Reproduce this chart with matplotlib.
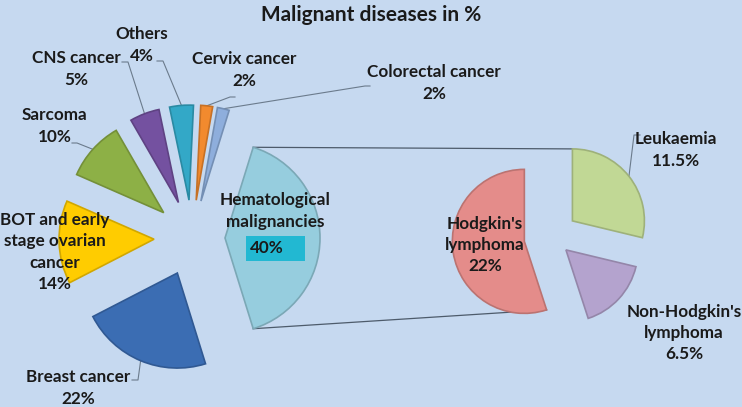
import numpy as np
import matplotlib.pyplot as plt
from matplotlib.patches import Rectangle

W, H = 742, 407
bg = "#C6D9F0"

# main pie, drawn clockwise starting with the hematological slice
main_names = ["Hematological\nmalignancies", "Breast cancer", "BOT and early\nstage ovarian\ncancer",
              "Sarcoma", "CNS cancer", "Others", "Cervix cancer", "Colorectal cancer"]
main_values = [40, 22, 14, 10, 5, 4, 2, 2]
main_pct = ["40%", "22%", "14%", "10%", "5%", "4%", "2%", "2%"]
main_colors = ["#96CDDE", "#3B6DB3", "#FFCC00", "#8DB046", "#7451A0", "#33A8C7", "#F28A2E", "#8EAEDC"]

# secondary pie (split of hematological malignancies), counter-clockwise from 12 o'clock
sub_names = ["Hodgkin's\nlymphoma", "Non-Hodgkin's\nlymphoma", "Leukaemia"]
sub_values = [22, 6.5, 11.5]
sub_pct = ["22%", "6.5%", "11.5%"]
sub_colors = ["#E48C8A", "#B4A3CE", "#C1D895"]

plt.rcParams['font.family'] = ['Lato', 'DejaVu Sans']
FS = 12.3
txt = dict(fontsize=FS, fontweight='bold', color='#1a1a1a', ha='center', va='center',
           multialignment='center', linespacing=1.42)


def py(y):
    # image row -> axes y
    return H - y


def darker(c, f=0.8):
    import matplotlib.colors as mc
    r, g, b = mc.to_rgb(c)
    return (r * f, g * f, b * f)


fig = plt.figure(figsize=(W / 100, H / 100), dpi=100, facecolor=bg)
ax = fig.add_axes([0, 0, 1, 1])
ax.set_facecolor(bg)

r1, r2 = 95, 72
c1 = (192, py(238))
c2 = (552, py(237))

main_explode = [33] + [38] * (len(main_values) - 1)
w_main, _ = ax.pie(main_values, radius=r1, center=c1, startangle=180 * main_values[0] / sum(main_values),
                   counterclock=False, explode=main_explode, colors=main_colors,
                   wedgeprops=dict(linewidth=1.2))
sub_explode = [28, 19, 26]
w_sub, _ = ax.pie(sub_values, radius=r2, center=c2, startangle=90, counterclock=True,
                  explode=sub_explode, colors=sub_colors, wedgeprops=dict(linewidth=1.2))
for w in list(w_main) + list(w_sub):
    w.set_edgecolor(darker(w.get_facecolor()[:3], 0.82))

ax.set_xlim(0, W)
ax.set_ylim(0, H)
ax.set_aspect('equal')
ax.axis('off')


def wpoint(w, ang):
    cx, cy = w.center
    a = np.deg2rad(ang)
    return cx + w.r * np.cos(a), cy + w.r * np.sin(a)


def wmid(w):
    return wpoint(w, (w.theta1 + w.theta2) / 2)


# connector lines between the two pies
hem, hod, leu = w_main[0], w_sub[0], w_sub[2]
p_top = wpoint(hem, hem.theta2)
p_bot = wpoint(hem, hem.theta1)
q_top = wpoint(leu, leu.theta2)
q_bot = wpoint(hod, hod.theta2)
ax.plot([p_top[0], q_top[0]], [p_top[1], q_top[1]], color='#4d5b6b', lw=0.9, zorder=0)
ax.plot([p_bot[0], q_bot[0]], [p_bot[1], q_bot[1]], color='#4d5b6b', lw=0.9, zorder=0)

ax.text(371, py(15), "Malignant diseases in %", fontsize=15, fontweight='bold', color='#1a1a1a',
        ha='center', va='center')

# label block centres (image coords)
main_pos = [(275, 211), (78, 388), (55, 252), (55, 126), (76, 69), (142, 45), (244, 70), (434, 83)]
for i, (name, pct) in enumerate(zip(main_names, main_pct)):
    x, y = main_pos[i]
    if i == 0:
        ax.text(x, py(y), name, **txt)
        ax.add_patch(Rectangle((246, py(261)), 59, 25, facecolor='#22B8D2', edgecolor='none', zorder=3))
        ax.text(267, py(248), pct, zorder=4, **txt)
    else:
        ax.text(x, py(y), name + "\n" + pct, **txt)

sub_pos = [(485, 245), (684, 333), (676, 150)]
for (x, y), name, pct in zip(sub_pos, sub_names, sub_pct):
    ax.text(x, py(y), name + "\n" + pct, **txt)

# leader lines: (slice, tick start, tick end) in image coords
leaders = [(w_main[4], (122, 62), (128, 62)),
           (w_main[5], (157, 61), (163, 61)),
           (w_main[6], (235, 97), (230, 97)),
           (w_main[7], (370, 86), (365, 86)),
           (w_main[3], (72, 143), (77, 143)),
           (w_main[1], (132, 380), (138, 380)),
           (w_sub[2], (640, 135), (634, 135))]
for w, a, b in leaders:
    m = wmid(w)
    ax.plot([a[0], b[0], m[0]], [py(a[1]), py(b[1]), m[1]], color='#6b7b8c', lw=0.8, zorder=0.5)

fig.savefig("out.png", dpi=100, facecolor=bg)
